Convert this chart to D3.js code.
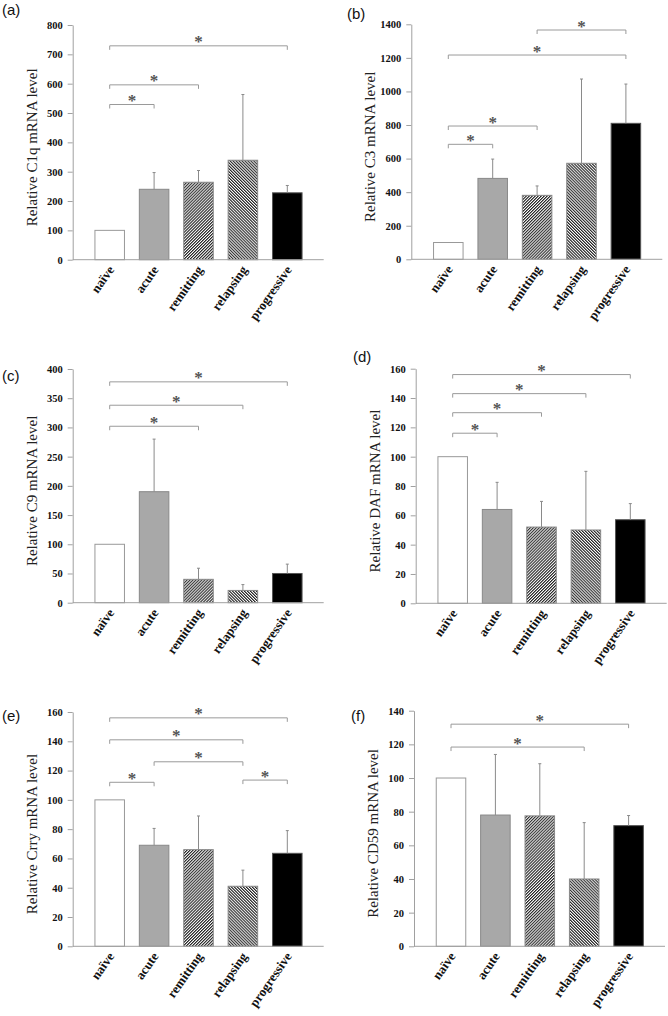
<!DOCTYPE html>
<html><head><meta charset="utf-8">
<script src="https://cdn.jsdelivr.net/npm/d3@7"></script>
<style>
html,body{margin:0;padding:0;background:#fff;}
svg{display:block;}
</style></head>
<body>
<svg id="chart" width="668" height="1016"></svg>
<script>
// ---------------- DATA ----------------
const categories = ["naïve", "acute", "remitting", "relapsing", "progressive"];
const panelLabels = ["(a)", "(b)", "(c)", "(d)", "(e)", "(f)"];
const axisTitles = ["Relative C1q mRNA level", "Relative C3 mRNA level", "Relative C9 mRNA level",
                    "Relative DAF mRNA level", "Relative Crry mRNA level", "Relative CD59 mRNA level"];
const yMaxValues = [800, 1400, 400, 160, 160, 140];
const yTickSteps = [100, 200, 50, 20, 20, 20];

const c1qMeans  = [100, 240, 264, 339, 228];
const c1qErrors = [0, 57, 40, 224, 25];
const c3Means   = [100, 482, 381, 572, 810];
const c3Errors  = [0, 115, 56, 502, 234];
const c9Means   = [100, 190, 40, 21, 50];
const c9Errors  = [0, 90, 19, 10, 16];
const dafMeans  = [100, 64, 52, 50, 57];
const dafErrors = [0, 18.5, 17.5, 40, 11];
const crryMeans = [100, 69, 66, 41, 63.5];
const crryErrors= [0, 11.5, 23, 11, 15.5];
const cd59Means = [100, 78, 77.5, 40, 71.7];
const cd59Errors= [0, 36, 31, 33.5, 6];

// significance brackets: [fromIndex, toIndex, level]
const c1qSig  = [[0,1,529],[0,2,596],[0,4,729]];
const c3Sig   = [[0,1,685],[0,2,794],[0,4,1217],[2,4,1366]];
const c9Sig   = [[0,2,302],[0,3,338],[0,4,378]];
const dafSig  = [[0,1,116],[0,2,130],[0,3,143],[0,4,156]];
const crrySig = [[0,1,112],[1,3,126],[0,3,141],[0,4,156],[3,4,113.5]];
const cd59Sig = [[0,3,118.4],[0,4,132]];

const meansList  = [c1qMeans, c3Means, c9Means, dafMeans, crryMeans, cd59Means];
const errorsList = [c1qErrors, c3Errors, c9Errors, dafErrors, crryErrors, cd59Errors];
const sigList    = [c1qSig, c3Sig, c9Sig, dafSig, crrySig, cd59Sig];

// ---------------- LAYOUT ----------------
const layout = [
  {ax: 72.7,  top: 25,    bottom: 259.7, lx: 2,   ly: 15},
  {ax: 411.3, top: 24.3,  bottom: 259.3, lx: 347, ly: 19},
  {ax: 72.7,  top: 369,   bottom: 602.7, lx: 2,   ly: 381},
  {ax: 415.7, top: 368.7, bottom: 603.3, lx: 353, ly: 362},
  {ax: 72.7,  top: 712,   bottom: 946.3, lx: 2,   ly: 721},
  {ax: 414,   top: 710.7, bottom: 946.3, lx: 351, ly: 721}
];

const svg = d3.select("#chart");
const defs = svg.append("defs");
function hatch(id, angle) {
  const s = 2.1;
  const p = defs.append("pattern").attr("id", id).attr("patternUnits", "userSpaceOnUse")
    .attr("width", s).attr("height", s).attr("patternTransform", `rotate(${angle})`);
  p.append("rect").attr("width", s).attr("height", s).attr("fill", "#fff");
  p.append("line").attr("x1", 0.55).attr("y1", 0).attr("x2", 0.55).attr("y2", s)
    .attr("stroke", "#222").attr("stroke-width", 1.1);
}
hatch("hatchUp", 45);
hatch("hatchDown", -45);

const fills   = ["#ffffff", "#a8a8a8", "url(#hatchUp)", "url(#hatchDown)", "#000000"];
const strokes = ["#999999", "#888888", "#888888", "#888888", "#555555"];
const axisColor = "#a0a0a0";
const serif = "'Liberation Serif', 'Times New Roman', serif";
const sans = "'Liberation Sans', Arial, sans-serif";

layout.forEach((L, i) => {
  const g = svg.append("g");
  const means = meansList[i], errs = errorsList[i];
  const y = d3.scaleLinear().domain([0, yMaxValues[i]]).range([L.bottom, L.top]);
  const x = d3.scaleBand().domain(categories)
    .range([L.ax + 14.8, L.ax + 236.8]).paddingInner(0.335).paddingOuter(0.1675);

  // panel label
  g.append("text").attr("x", L.lx).attr("y", L.ly).text(panelLabels[i])
    .attr("font-family", sans).attr("font-size", 15).attr("fill", "#111");

  // y-axis
  const yAxis = d3.axisLeft(y)
    .tickValues(d3.range(0, yMaxValues[i] + yTickSteps[i] / 2, yTickSteps[i]))
    .tickFormat(d3.format("d"))
    .tickSize(5).tickSizeOuter(0).tickPadding(5);
  const ya = g.append("g").attr("transform", `translate(${L.ax},0)`).call(yAxis);
  ya.select(".domain").attr("stroke", axisColor);
  ya.selectAll(".tick line").attr("stroke", axisColor);
  ya.selectAll(".tick text").attr("font-family", serif).attr("font-weight", "bold")
    .attr("font-size", 10.5).attr("fill", "#111");

  // axis title
  g.append("text")
    .attr("transform", `translate(${L.ax - 36},${(L.top + L.bottom) / 2 + 5}) rotate(-90)`)
    .attr("text-anchor", "middle").attr("font-family", serif).attr("font-size", 15)
    .attr("fill", "#222").text(axisTitles[i]);

  // bars
  g.selectAll("rect.bar").data(categories).enter().append("rect").attr("class", "bar")
    .attr("x", d => x(d)).attr("width", x.bandwidth())
    .attr("y", (d, k) => y(means[k])).attr("height", (d, k) => y(0) - y(means[k]))
    .attr("fill", (d, k) => fills[k]).attr("stroke", (d, k) => strokes[k]).attr("stroke-width", 1);

  // error bars (upper only)
  const eb = g.selectAll("g.err").data(categories.filter((d, k) => errs[k] > 0)).enter().append("g");
  eb.append("line")
    .attr("x1", d => x(d) + x.bandwidth() / 2).attr("x2", d => x(d) + x.bandwidth() / 2)
    .attr("y1", d => y(means[categories.indexOf(d)]))
    .attr("y2", d => y(means[categories.indexOf(d)] + errs[categories.indexOf(d)]))
    .attr("stroke", "#8a8a8a").attr("stroke-width", 1);
  eb.append("line")
    .attr("x1", d => x(d) + x.bandwidth() / 2 - 1.5).attr("x2", d => x(d) + x.bandwidth() / 2 + 1.5)
    .attr("y1", d => y(means[categories.indexOf(d)] + errs[categories.indexOf(d)]))
    .attr("y2", d => y(means[categories.indexOf(d)] + errs[categories.indexOf(d)]))
    .attr("stroke", "#8a8a8a").attr("stroke-width", 1);

  // x-axis line + labels
  g.append("line").attr("x1", L.ax).attr("x2", L.ax + 251).attr("y1", y(0)).attr("y2", y(0))
    .attr("stroke", axisColor).attr("stroke-width", 1);
  const xa = g.append("g").attr("transform", `translate(0,${y(0)})`)
    .call(d3.axisBottom(x).tickSize(0));
  xa.select(".domain").remove();
  xa.selectAll(".tick text").attr("x", 0).attr("y", 0).attr("dy", 0)
    .attr("transform", "translate(5,10) rotate(-55)").attr("text-anchor", "end")
    .attr("font-family", serif).attr("font-weight", "bold").attr("font-size", 13).attr("fill", "#111");

  // significance brackets
  const cx = k => x(categories[k]) + x.bandwidth() / 2;
  const sg = g.selectAll("g.sig").data(sigList[i]).enter().append("g");
  sg.append("path")
    .attr("d", s => `M${cx(s[0])},${y(s[2]) + 4}V${y(s[2])}H${cx(s[1])}V${y(s[2]) + 4}`)
    .attr("fill", "none").attr("stroke", "#9a9a9a").attr("stroke-width", 1);
  sg.append("text")
    .attr("x", s => (cx(s[0]) + cx(s[1])) / 2).attr("y", s => y(s[2]) + 1.5)
    .attr("text-anchor", "middle").attr("font-family", serif).attr("font-weight", "bold")
    .attr("font-size", 17).attr("fill", "#555").text("*");
});
</script>
</body></html>
